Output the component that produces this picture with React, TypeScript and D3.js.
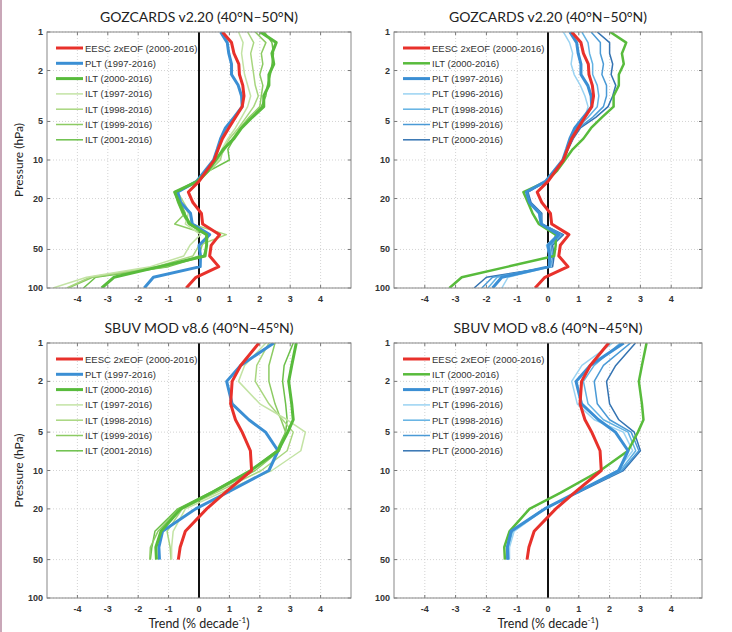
import React from 'react';
import * as d3 from 'd3';

// GOZCARDS pressure levels, bottom (100 hPa) to top (1 hPa)
const gozLevels = [100, 82.5, 68.1, 56.2, 46.4, 38.3, 31.6, 26.1, 21.5, 17.8, 14.7, 12.1, 10, 8.25, 6.81, 5.62, 4.64, 3.83, 3.16, 2.61, 2.15, 1.78, 1.47, 1.21, 1];

const gozEESC = [-0.42, -0.1, 0.65, 0.35, 0.4, 0.68, 0.12, 0.08, -0.2, -0.35, 0.0, 0.25, 0.5, 0.63, 0.77, 0.98, 1.2, 1.42, 1.48, 1.44, 1.33, 1.31, 1.15, 1.07, 0.77];
const gozPLT1997 = [-1.8, -1.5, 0.04, 0.05, 0.0, 0.35, -0.22, -0.28, -0.6, -0.7, -0.08, 0.2, 0.48, 0.6, 0.71, 0.87, 1.15, 1.42, 1.4, 1.29, 1.07, 1.07, 0.98, 0.93, 0.71];
const gozILT2000 = [-3.2, -2.8, -1.3, 0.2, 0.25, 0.25, -0.3, -0.5, -0.65, -0.8, -0.05, 0.3, 0.55, 0.8, 1.15, 1.4, 1.75, 2.13, 2.13, 2.3, 2.3, 2.46, 2.4, 2.54, 2.02];
const gozILT1997 = [-4.8, -3.7, -1.6, -0.5, -0.3, 0.05, -0.45, -0.35, -0.55, -0.75, -0.1, 0.3, 0.65, 0.75, 0.95, 1.2, 1.4, 1.6, 1.7, 1.6, 1.5, 1.45, 1.4, 1.45, 1.3];
const gozILT1998 = [-4.35, -3.6, -1.4, -0.2, 0.0, 0.9, -0.25, -0.3, -0.5, -0.7, -0.05, 0.35, 0.7, 0.8, 1.0, 1.3, 1.55, 1.8, 1.95, 1.85, 1.8, 1.75, 1.7, 1.8, 1.6];
const gozILT1999 = [-4.3, -3.5, -1.1, 0.0, 0.1, 0.3, -0.8, -0.45, -0.6, -0.8, -0.1, 0.3, 0.6, 0.85, 1.1, 1.35, 1.65, 2.0, 2.05, 2.1, 2.0, 2.1, 2.05, 2.2, 1.85];
const gozILT2001 = [-3.8, -3.4, -1.0, 0.15, 0.25, 0.3, -0.35, -0.55, -0.7, -0.8, 0.0, 0.35, 1.0, 0.95, 1.15, 1.4, 1.75, 2.05, 2.2, 2.25, 2.35, 2.4, 2.45, 2.4, 2.15];
const gozPLT1996 = [-1.5, -1.3, 0.1, 0.05, -0.05, 0.3, -0.25, -0.3, -0.65, -0.7, -0.1, 0.2, 0.5, 0.6, 0.72, 0.9, 1.2, 1.3, 1.2, 1.05, 0.85, 0.75, 0.8, 0.7, 0.5];
const gozPLT1998 = [-1.95, -1.65, 0.05, 0.1, 0.05, 0.4, -0.2, -0.25, -0.6, -0.7, -0.08, 0.2, 0.5, 0.62, 0.75, 0.95, 1.3, 1.6, 1.65, 1.6, 1.45, 1.45, 1.35, 1.3, 1.1];
const gozPLT1999 = [-2.15, -1.8, 0.1, 0.15, 0.1, 0.45, -0.2, -0.25, -0.6, -0.68, -0.05, 0.22, 0.5, 0.65, 0.8, 1.0, 1.45, 1.8, 1.9, 1.9, 1.75, 1.8, 1.7, 1.7, 1.4];
const gozPLT2000 = [-2.4, -2.0, 0.15, 0.2, 0.15, 0.5, -0.2, -0.2, -0.55, -0.65, -0.05, 0.22, 0.52, 0.65, 0.82, 1.05, 1.55, 1.95, 2.1, 2.2, 2.05, 2.1, 2.0, 2.0, 1.6];

// SBUV pressure levels, top (1 hPa) to bottom (50 hPa)
const sbuvLevels = [1, 1.5, 2, 3, 4, 5, 7, 10, 15, 20, 30, 40, 50];

const sbuvEESC = [1.97, 1.37, 1.09, 1.04, 1.2, 1.42, 1.69, 1.73, 0.85, 0.25, -0.45, -0.62, -0.68];
const sbuvPLT1997 = [2.46, 1.37, 0.91, 1.09, 1.64, 2.19, 2.6, 2.3, 0.9, -0.11, -1.2, -1.32, -1.3];
const sbuvILT2000 = [3.2, 3.05, 2.95, 3.05, 3.1, 2.92, 2.6, 1.7, 0.4, -0.6, -1.25, -1.42, -1.4];
const sbuvILT1997 = [2.2, 1.5, 1.3, 2.0, 2.9, 3.5, 3.35, 2.4, 0.7, -0.45, -0.85, -0.9, -0.9];
const sbuvILT1998 = [2.3, 1.9, 1.85, 2.3, 2.75, 3.1, 2.9, 2.05, 0.55, -0.55, -1.05, -0.95, -0.92];
const sbuvILT1999 = [2.5, 2.3, 2.3, 2.5, 2.7, 2.85, 2.65, 1.85, 0.45, -0.65, -1.35, -1.6, -1.62];
const sbuvILT2001 = [3.1, 2.8, 2.75, 2.85, 2.9, 2.85, 2.55, 1.7, 0.35, -0.7, -1.45, -1.55, -1.6];
const sbuvPLT1996 = [2.1, 1.1, 0.77, 0.95, 1.5, 2.45, 2.75, 2.25, 0.9, -0.1, -1.1, -1.25, -1.25];
const sbuvPLT1998 = [2.35, 1.5, 1.15, 1.3, 1.8, 2.6, 2.85, 2.35, 0.92, -0.1, -1.15, -1.28, -1.28];
const sbuvPLT1999 = [2.68, 1.8, 1.5, 1.6, 2.0, 2.7, 2.95, 2.4, 0.92, -0.12, -1.18, -1.3, -1.3];
const sbuvPLT2000 = [2.84, 2.2, 1.9, 2.0, 2.3, 2.8, 3.0, 2.45, 0.95, -0.12, -1.2, -1.33, -1.33];

const xTicks = [-4, -3, -2, -1, 0, 1, 2, 3, 4];
const yTicks = [1, 2, 5, 10, 20, 50, 100];

const RED = '#e8312b';
const BLUE = '#3b8fd4';
const GREEN = '#58bb3c';

const font = '"Liberation Sans", Arial, sans-serif';
const titleFont = 'Lato, "Open Sans", sans-serif';

type Series = { label: string; values: number[]; color: string; width: number };

const mk = (label: string, values: number[], color: string, width: number): Series => ({ label, values, color, width });

// legend order; drawing order is built separately below
const gozIltSet = [
  mk('EESC 2xEOF (2000-2016)', gozEESC, RED, 3),
  mk('PLT (1997-2016)', gozPLT1997, BLUE, 3),
  mk('ILT (2000-2016)', gozILT2000, GREEN, 3),
  mk('ILT (1997-2016)', gozILT1997, '#c3e3a4', 1.5),
  mk('ILT (1998-2016)', gozILT1998, '#a8d67f', 1.5),
  mk('ILT (1999-2016)', gozILT1999, '#8ccb63', 1.5),
  mk('ILT (2001-2016)', gozILT2001, '#6cc04a', 1.5),
];
const gozPltSet = [
  mk('EESC 2xEOF (2000-2016)', gozEESC, RED, 3),
  mk('ILT (2000-2016)', gozILT2000, GREEN, 2.5),
  mk('PLT (1997-2016)', gozPLT1997, BLUE, 3),
  mk('PLT (1996-2016)', gozPLT1996, '#9ad3f2', 1.5),
  mk('PLT (1998-2016)', gozPLT1998, '#62b2e3', 1.5),
  mk('PLT (1999-2016)', gozPLT1999, '#4a9ad6', 1.5),
  mk('PLT (2000-2016)', gozPLT2000, '#3473b2', 1.5),
];
const sbuvIltSet = [
  mk('EESC 2xEOF (2000-2016)', sbuvEESC, RED, 3),
  mk('PLT (1997-2016)', sbuvPLT1997, BLUE, 3),
  mk('ILT (2000-2016)', sbuvILT2000, GREEN, 3),
  mk('ILT (1997-2016)', sbuvILT1997, '#c3e3a4', 1.5),
  mk('ILT (1998-2016)', sbuvILT1998, '#a8d67f', 1.5),
  mk('ILT (1999-2016)', sbuvILT1999, '#8ccb63', 1.5),
  mk('ILT (2001-2016)', sbuvILT2001, '#6cc04a', 1.5),
];
const sbuvPltSet = [
  mk('EESC 2xEOF (2000-2016)', sbuvEESC, RED, 3),
  mk('ILT (2000-2016)', sbuvILT2000, GREEN, 2.5),
  mk('PLT (1997-2016)', sbuvPLT1997, BLUE, 3),
  mk('PLT (1996-2016)', sbuvPLT1996, '#9ad3f2', 1.5),
  mk('PLT (1998-2016)', sbuvPLT1998, '#62b2e3', 1.5),
  mk('PLT (1999-2016)', sbuvPLT1999, '#4a9ad6', 1.5),
  mk('PLT (2000-2016)', sbuvPLT2000, '#3473b2', 1.5),
];

type PanelProps = {
  id: string;
  left: number;
  right: number;
  top: number;
  bottom: number;
  title: string;
  titleY: number;
  levels: number[];
  series: Series[];
  yLabel?: boolean;
  xLabel?: boolean;
};

const Panel = ({ id, left, right, top, bottom, title, titleY, levels, series, yLabel, xLabel }: PanelProps) => {
  const x = d3.scaleLinear().domain([-5, 5]).range([left, right]);
  const y = d3.scaleLog().domain([1, 100]).range([top, bottom]);
  const line = d3
    .line<number>()
    .x((d) => x(d))
    .y((d, i) => y(levels[i]));

  // thin variants first, then the thick reference lines, red on top
  const drawOrder = [...series.slice(3).reverse(), series[1], series[2], series[0]];

  return (
    <g>
      <defs>
        <clipPath id={id}>
          <rect x={left} y={top} width={right - left} height={bottom - top} />
        </clipPath>
      </defs>
      <text x={x(0)} y={titleY} textAnchor="middle" fontFamily={titleFont} fontSize={14} fill="#222">
        {title}
      </text>
      <rect x={left} y={top} width={right - left} height={bottom - top} fill="#fff" />
      {/* grid */}
      {xTicks.map((t) => (
        <line key={'gx' + t} x1={x(t)} x2={x(t)} y1={top} y2={bottom} stroke="#c8c8c8" strokeWidth={0.8} strokeDasharray="1,2" />
      ))}
      {yTicks.map((t) => (
        <line key={'gy' + t} x1={left} x2={right} y1={y(t)} y2={y(t)} stroke="#c8c8c8" strokeWidth={0.8} strokeDasharray="1,2" />
      ))}
      {/* tick marks inside the frame */}
      {xTicks.map((t) => (
        <g key={'tx' + t}>
          <line x1={x(t)} x2={x(t)} y1={top} y2={top + 3} stroke="#777" />
          <line x1={x(t)} x2={x(t)} y1={bottom} y2={bottom - 3} stroke="#777" />
        </g>
      ))}
      {yTicks.map((t) => (
        <g key={'ty' + t}>
          <line x1={left} x2={left + 3} y1={y(t)} y2={y(t)} stroke="#777" />
          <line x1={right} x2={right - 3} y1={y(t)} y2={y(t)} stroke="#777" />
        </g>
      ))}
      <g clipPath={`url(#${id})`}>
        <line x1={x(0)} x2={x(0)} y1={top} y2={bottom} stroke="#111" strokeWidth={2} />
        {drawOrder.map((s) => (
          <path key={s.label} d={line(s.values) || ''} fill="none" stroke={s.color} strokeWidth={s.width} strokeLinejoin="round" />
        ))}
      </g>
      <rect x={left} y={top} width={right - left} height={bottom - top} fill="none" stroke="#888" strokeWidth={1} />
      {/* legend */}
      {series.map((s, i) => {
        const ly = top + 16 + i * 15.3;
        return (
          <g key={'lg' + s.label}>
            <line x1={left + 9} x2={left + 36} y1={ly} y2={ly} stroke={s.color} strokeWidth={s.width} />
            <text x={left + 38} y={ly + 3.5} fontFamily={font} fontSize={9.5} fill="#333">
              {s.label}
            </text>
          </g>
        );
      })}
      {/* tick labels */}
      {xTicks.map((t) => (
        <text key={'lx' + t} x={x(t)} y={bottom + 14} textAnchor="middle" fontFamily={font} fontSize={9} fontWeight="bold" fill="#333">
          {t}
        </text>
      ))}
      {yTicks.map((t) => (
        <text key={'ly' + t} x={left - 4} y={y(t) + 3} textAnchor="end" fontFamily={font} fontSize={9} fontWeight="bold" fill="#333">
          {t}
        </text>
      ))}
      {yLabel && (
        <text
          transform={`translate(${left - 24},${(top + bottom) / 2}) rotate(-90)`}
          textAnchor="middle"
          fontFamily={titleFont}
          fontSize={12}
          fill="#222"
        >
          Pressure (hPa)
        </text>
      )}
      {xLabel && (
        <text x={x(0)} y={bottom + 30} textAnchor="middle" fontFamily={titleFont} fontSize={12.5} fill="#222">
          Trend (% decade
          <tspan fontSize={8} dy={-5}>-1</tspan>
          <tspan dy={5}>)</tspan>
        </text>
      )}
    </g>
  );
};

const App = () => {
  return (
    <svg width={732} height={632} style={{ position: 'absolute', left: 0, top: 0, background: '#fff' }}>
      <rect width={732} height={632} fill="#fff" />
      <line x1={1} x2={1} y1={0} y2={632} stroke="#c9a7b8" strokeWidth={2} />
      <Panel id="p1" left={47} right={351} top={32} bottom={288} title="GOZCARDS v2.20 (40°N–50°N)" titleY={22}
        levels={gozLevels} series={gozIltSet} yLabel />
      <Panel id="p2" left={394} right={702} top={32} bottom={288} title="GOZCARDS v2.20 (40°N–50°N)" titleY={22}
        levels={gozLevels} series={gozPltSet} />
      <Panel id="p3" left={47} right={351} top={343} bottom={598} title="SBUV MOD v8.6 (40°N–45°N)" titleY={333}
        levels={sbuvLevels} series={sbuvIltSet} yLabel xLabel />
      <Panel id="p4" left={394} right={702} top={343} bottom={598} title="SBUV MOD v8.6 (40°N–45°N)" titleY={333}
        levels={sbuvLevels} series={sbuvPltSet} xLabel />
    </svg>
  );
};

export default App;
